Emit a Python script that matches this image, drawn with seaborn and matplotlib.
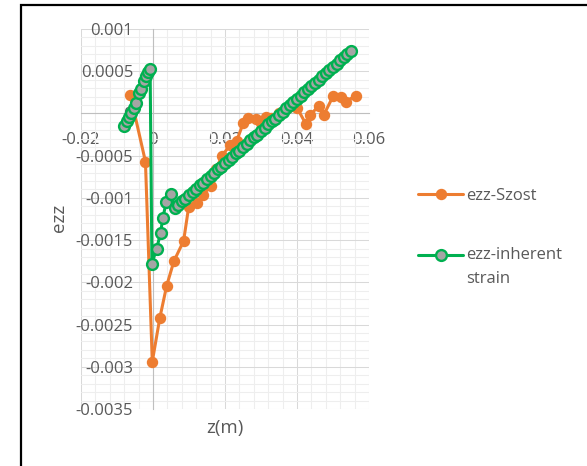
import numpy as np
import matplotlib
matplotlib.use('Agg')
import matplotlib.pyplot as plt
import seaborn as sns
from matplotlib.ticker import FixedLocator, MultipleLocator, FixedFormatter
from matplotlib.legend_handler import HandlerLine2D
from matplotlib.patches import Rectangle

# ---- data ----
szost_z = [-0.0063, -0.0021, -0.0002, 0.0019, 0.0038, 0.0058, 0.0085, 0.0099,
           0.0121, 0.0140, 0.0160, 0.0175, 0.0192, 0.0215, 0.0232, 0.0251,
           0.0265, 0.0285, 0.0301, 0.0313, 0.0329, 0.0351, 0.0371, 0.0387,
           0.0401, 0.0424, 0.0437, 0.0460, 0.0474, 0.0501, 0.0521, 0.0535, 0.0563]
szost_ezz = [0.00022, -0.00057, -0.00294, -0.00242, -0.00204, -0.00175, -0.00151, -0.00111,
             -0.00106, -0.00096, -0.00086, -0.00066, -0.00050, -0.00037, -0.00033, -0.00011,
             -0.00005, -0.00007, -0.00011, -0.00004, -0.00005, 0.00001, 0.00007, 0.00009,
             0.00006, -0.00012, -0.00002, 0.00009, -0.00002, 0.00021, 0.00019, 0.00014, 0.00021]

inh_z = [-0.0080, -0.0073, -0.0066, -0.0061, -0.0052, -0.0047, -0.0039, -0.0033,
         -0.0025, -0.0019, -0.0013, -0.0008,
         -0.0003, 0.0010, 0.0021, 0.0027, 0.0037, 0.0049,
         0.006, 0.007, 0.008, 0.009, 0.010, 0.011, 0.012, 0.013, 0.014, 0.015,
         0.016, 0.017, 0.018, 0.019, 0.020, 0.021, 0.022, 0.023, 0.024, 0.025,
         0.026, 0.027, 0.028, 0.029, 0.030, 0.031, 0.032, 0.033, 0.034, 0.035,
         0.036, 0.037, 0.038, 0.039, 0.040, 0.041, 0.042, 0.043, 0.044, 0.045,
         0.046, 0.047, 0.048, 0.049, 0.050, 0.051, 0.052, 0.053, 0.054, 0.055]
inh_ezz = [-0.00015, -0.00009, -0.00004, 0.00000, 0.00007, 0.00012, 0.00024, 0.00029,
           0.00039, 0.00044, 0.00049, 0.00053,
           -0.00178, -0.00160, -0.00142, -0.00124, -0.00105, -0.00095,
           -0.00112, -0.00108, -0.00104, -0.00101, -0.00097, -0.00093, -0.00089, -0.00085, -0.00082, -0.00078,
           -0.00074, -0.00070, -0.00066, -0.00063, -0.00059, -0.00055, -0.00051, -0.00047, -0.00044, -0.00040,
           -0.00036, -0.00032, -0.00028, -0.00025, -0.00021, -0.00017, -0.00013, -0.00009, -0.00006, -0.00002,
           0.00002, 0.00006, 0.00010, 0.00013, 0.00017, 0.00021, 0.00025, 0.00029, 0.00032, 0.00036,
           0.00040, 0.00044, 0.00048, 0.00051, 0.00055, 0.00059, 0.00063, 0.00067, 0.00070, 0.00074]

x_ticks = [-0.02, 0.0, 0.02, 0.04, 0.06]
x_ticklabels = ['-0.02', '0', '0.02', '0.04', '0.06']
y_ticks = [0.001, 0.0005, 0.0, -0.0005, -0.001, -0.0015, -0.002, -0.0025, -0.003, -0.0035]
y_ticklabels = ['0.001', '0.0005', '0', '-0.0005', '-0.001', '-0.0015', '-0.002',
                '-0.0025', '-0.003', '-0.0035']

series_labels = ['ezz-Szost', 'ezz-inherent\nstrain']
x_title = 'z(m)'
y_title = 'ezz'

ORANGE = '#ED7D31'
GREEN = '#00B050'
GRAY = '#A5A5A5'
TXT = '#595959'

sns.set_theme(style='white')
plt.rcParams['font.family'] = ['Open Sans', 'DejaVu Sans']

fig = plt.figure(figsize=(5.87, 4.66), dpi=100)
ax = fig.add_axes([81 / 587, 57 / 466, 288 / 587, 380 / 466])

sns.lineplot(x=szost_z, y=szost_ezz, sort=False, estimator=None, ax=ax,
             color=ORANGE, linewidth=2.2, marker='o', markersize=7.2,
             markerfacecolor=ORANGE, markeredgecolor=ORANGE, markeredgewidth=1,
             label=series_labels[0], zorder=4)
sns.lineplot(x=inh_z, y=inh_ezz, sort=False, estimator=None, ax=ax,
             color=GREEN, linewidth=2.2, marker='o', markersize=7.8,
             markerfacecolor=GRAY, markeredgecolor=GREEN, markeredgewidth=1.7,
             label=series_labels[1], zorder=5)

ax.set_xlim(-0.02, 0.06)
ax.set_ylim(-0.0035, 0.001)
ax.xaxis.set_major_locator(FixedLocator(x_ticks))
ax.xaxis.set_major_formatter(FixedFormatter(x_ticklabels))
ax.yaxis.set_major_locator(FixedLocator(y_ticks))
ax.yaxis.set_major_formatter(FixedFormatter(y_ticklabels))
ax.xaxis.set_minor_locator(MultipleLocator(0.004))
ax.yaxis.set_minor_locator(MultipleLocator(0.0001))

ax.grid(which='major', color='#D9D9D9', linewidth=0.75)
ax.grid(which='minor', color='#EEEEEE', linewidth=0.75)
ax.set_axisbelow(True)

for s in ['top', 'right']:
    ax.spines[s].set_visible(False)
ax.spines['left'].set_position(('data', 0))
ax.spines['bottom'].set_position(('data', 0))
for s in ['left', 'bottom']:
    ax.spines[s].set_color('#BFBFBF')
    ax.spines[s].set_linewidth(0.8)
    ax.spines[s].set_zorder(1)

ax.tick_params(axis='both', which='both', length=0, labelsize=12, labelcolor=TXT)
ax.tick_params(axis='y', pad=14.4)
ax.tick_params(axis='x', pad=13.5)

ax.set_xlabel(x_title, fontsize=13.5, color=TXT)
ax.set_ylabel(y_title, fontsize=13.5, color=TXT)
ax.xaxis.set_label_coords(0.5, -0.025)
ax.yaxis.set_label_coords(-0.045, 0.503)


def _raise_handle(legend_handle, orig_handle):
    # align the legend handle with the first line of a two-line label
    legend_handle.update_from(orig_handle)
    yd = np.asarray(legend_handle.get_ydata(), dtype=float)
    legend_handle.set_ydata(yd + 9.2)


handles, labels = ax.get_legend_handles_labels()
leg = ax.legend(handles, labels, loc='upper left',
                bbox_to_anchor=(418 / 587, (466 - 188) / 466),
                bbox_transform=fig.transFigure, frameon=False, fontsize=12,
                handlelength=2.7, handletextpad=0.2, labelspacing=2.6,
                borderpad=0, borderaxespad=0,
                handler_map={handles[1]: HandlerLine2D(update_func=_raise_handle)})
for t in leg.get_texts():
    t.set_color(TXT)
    t.set_linespacing(1.65)

fig.add_artist(Rectangle((20.5 / 587, -0.05), 2.0, (466 - 4.5) / 466 + 0.05,
                         transform=fig.transFigure, fill=False,
                         edgecolor='black', linewidth=1.6))

fig.savefig('out.png', dpi=100)
